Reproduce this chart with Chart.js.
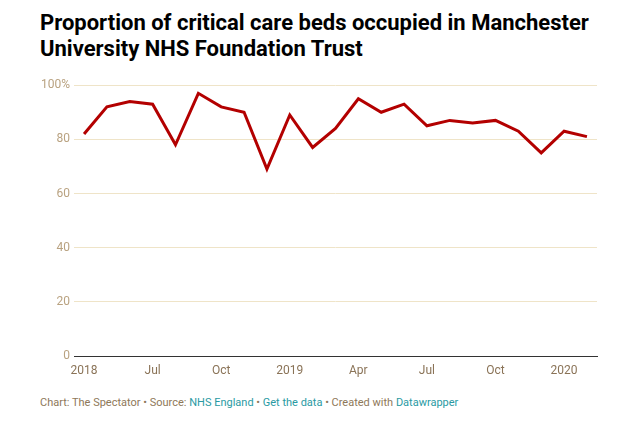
<!DOCTYPE html>
<html>
<head>
<meta charset="utf-8">
<script src="https://cdn.jsdelivr.net/npm/chart.js@4"></script>
<style>
  body { margin: 0; background: #fff; font-family: Roboto, sans-serif; }
  #title {
    position: absolute; left: 40px; top: 10px; width: 585px;
    font-size: 22px; font-weight: 700; line-height: 26px; color: #000;
  }
  #box { position: absolute; left: 40px; top: 74px; width: 565px; height: 306px; }
  #footer {
    position: absolute; left: 40px; top: 396px;
    font-size: 11px; color: #8e7859;
  }
  #footer a { color: #2a9aa3; text-decoration: none; }
</style>
</head>
<body>
<div id="title">Proportion of critical care beds occupied in Manchester University NHS Foundation Trust</div>
<div id="box"><canvas id="chart"></canvas></div>
<div id="footer">Chart: The Spectator • Source: <a>NHS England</a> • <a>Get the data</a> • Created with <a>Datawrapper</a></div>
<script>
// monthly, Apr 2018 - Feb 2020
const months = ["2018-04","2018-05","2018-06","2018-07","2018-08","2018-09","2018-10","2018-11","2018-12",
  "2019-01","2019-02","2019-03","2019-04","2019-05","2019-06","2019-07","2019-08","2019-09","2019-10",
  "2019-11","2019-12","2020-01","2020-02"];
const occupancy = [82, 92, 94, 93, 78, 97, 92, 90, 69, 89, 77, 84, 95, 90, 93, 85, 87, 86, 87, 83, 75, 83, 81];

const xTickMonths = ["2018-04","2018-07","2018-10","2019-01","2019-04","2019-07","2019-10","2020-01"];
const xTickLabels = ["2018", "Jul", "Oct", "2019", "Apr", "Jul", "Oct", "2020"];
const yTicks = [0, 20, 40, 60, 80, 100];

const points = occupancy.map((v, i) => ({ x: i, y: v }));

new Chart(document.getElementById("chart"), {
  type: "line",
  data: {
    datasets: [{
      data: points,
      borderColor: "#b30000",
      borderWidth: 3,
      pointRadius: 0,
      tension: 0,
      borderJoinStyle: "miter"
    }]
  },
  options: {
    responsive: true,
    maintainAspectRatio: false,
    animation: false,
    layout: { padding: { top: 10, right: 8, left: 0, bottom: 0 } },
    plugins: { legend: { display: false }, tooltip: { enabled: false } },
    scales: {
      x: {
        type: "linear",
        min: -0.44,
        max: months.length - 1 + 0.44,
        afterBuildTicks: (axis) => {
          axis.ticks = xTickMonths.map(m => ({ value: months.indexOf(m) }));
        },
        afterFit: (axis) => { axis.height = 24; },
        grid: { display: false, drawTicks: false },
        border: { display: true, color: "#333", width: 1 },
        ticks: {
          padding: 8,
          color: "#8a7357",
          font: { family: "Roboto", size: 12 },
          maxRotation: 0,
          autoSkip: false,
          callback: (value) => {
            const k = xTickMonths.indexOf(months[value]);
            return k >= 0 ? xTickLabels[k] : "";
          }
        }
      },
      y: {
        min: 0,
        max: 100,
        afterBuildTicks: (axis) => {
          axis.ticks = yTicks.map(v => ({ value: v }));
        },
        afterFit: (axis) => { axis.width = 34; },
        border: { display: false },
        grid: {
          drawTicks: false,
          color: (ctx) => ctx.tick && ctx.tick.value === 0 ? "rgba(0,0,0,0)" : "#efe4c8",
          lineWidth: 1
        },
        ticks: {
          padding: 4,
          color: "#b9a280",
          font: { family: "Roboto", size: 12 },
          callback: (v) => v === 100 ? "100%" : String(v)
        }
      }
    }
  }
});
</script>
</body>
</html>
